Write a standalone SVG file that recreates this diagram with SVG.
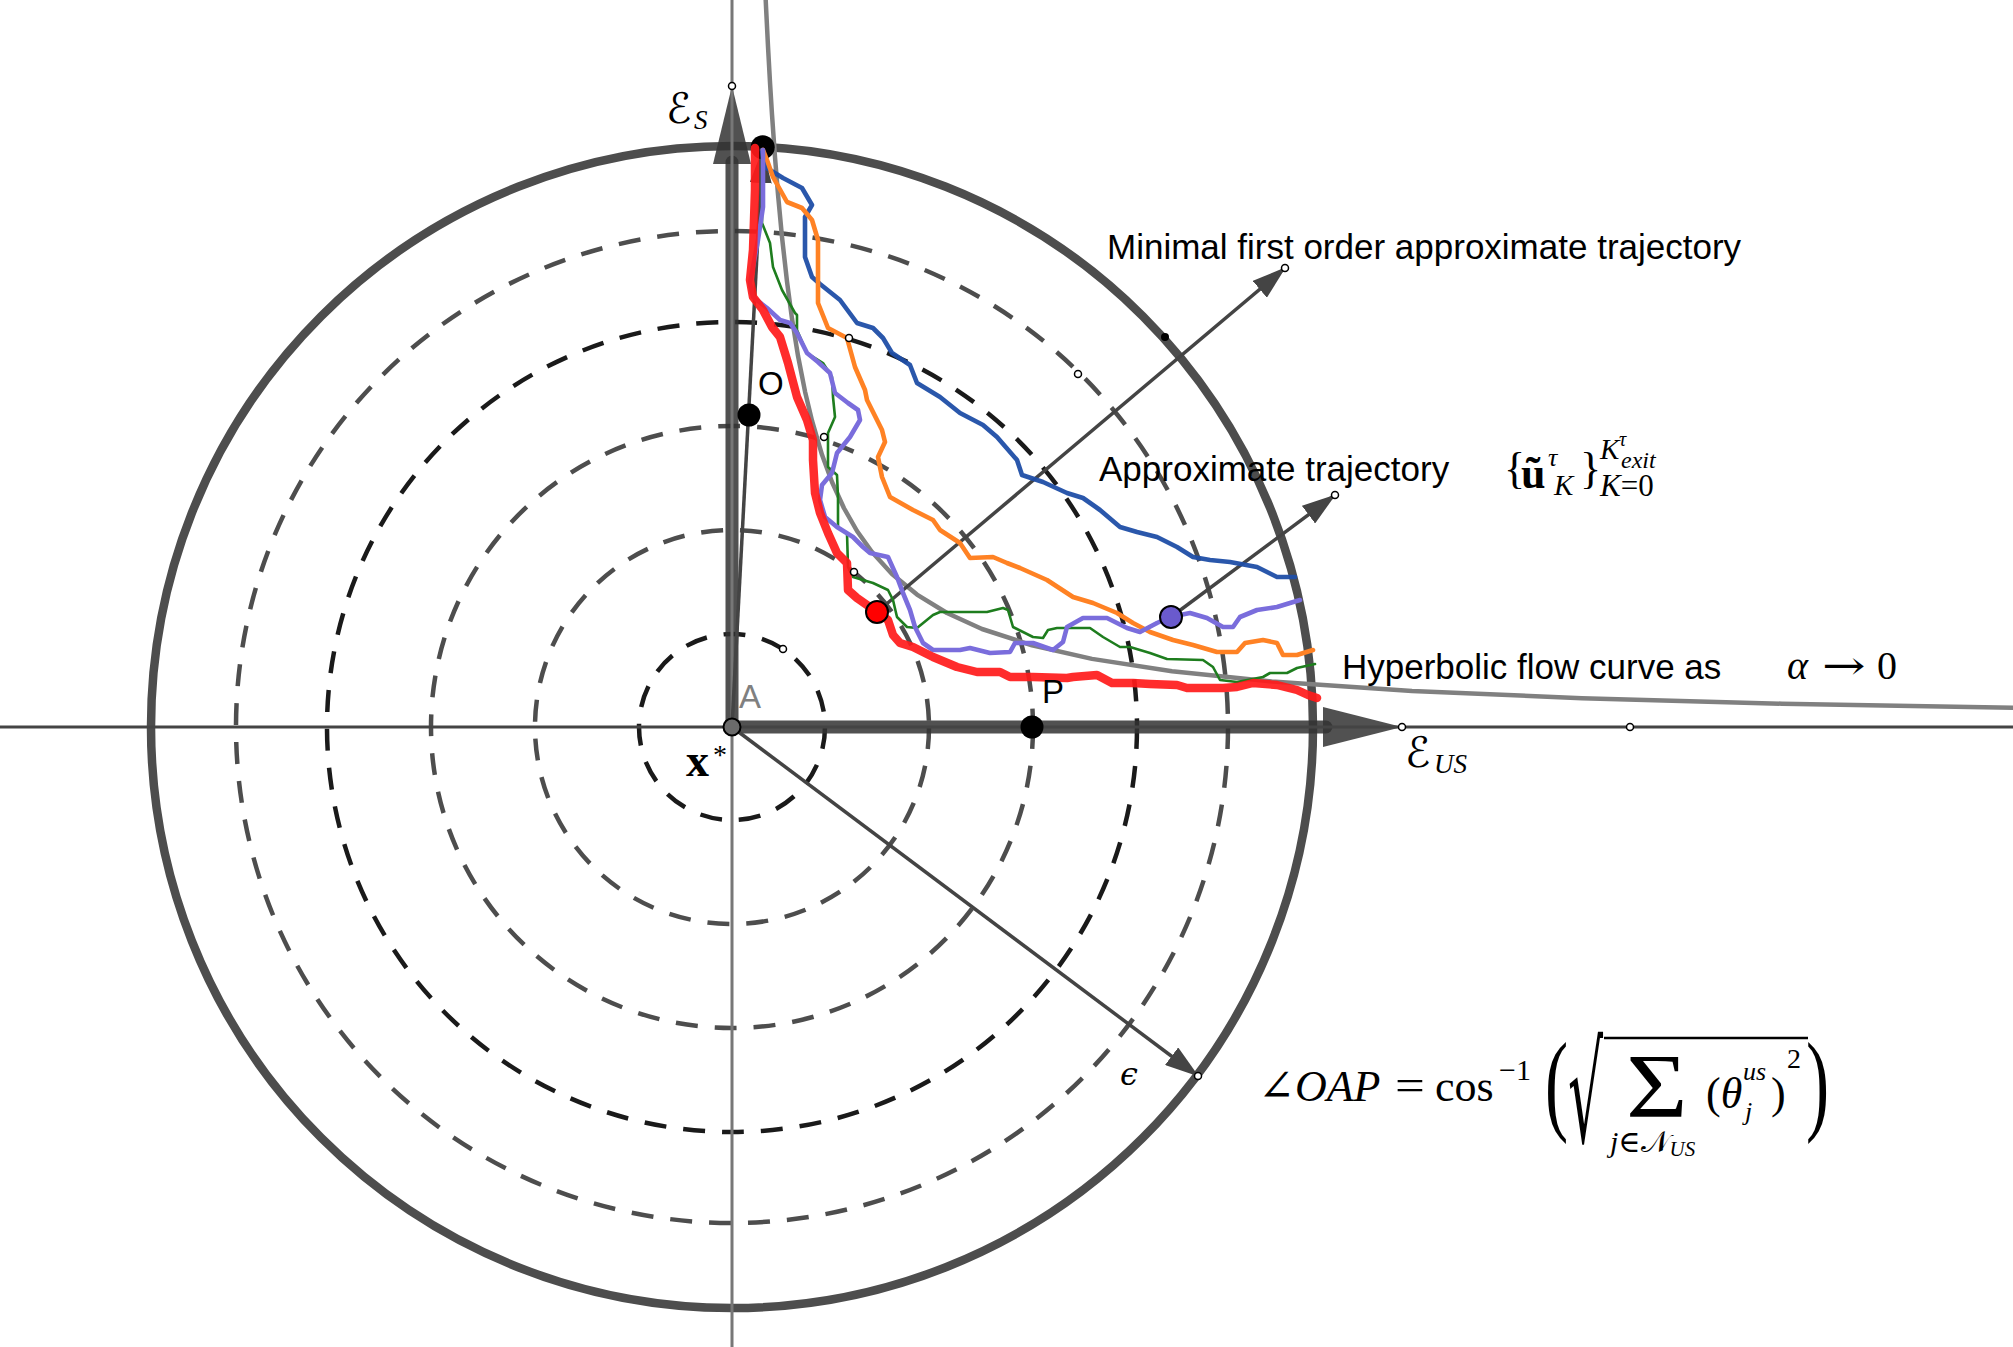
<svg xmlns="http://www.w3.org/2000/svg" width="2013" height="1347" viewBox="0 0 2013 1347">
<style>
.sans{font-family:'Liberation Sans',Arial,sans-serif;font-size:35px;fill:#000}
.lbl{font-family:'Liberation Sans',Arial,sans-serif;font-size:33px}
.ser{font-family:'Liberation Serif','DejaVu Serif',serif;fill:#000}
.it{font-style:italic}
.scr{font-family:'DejaVu Serif','DejaVu Sans',serif;fill:#000}
.dash{fill:none;stroke-width:4.5;stroke-dasharray:22 17}
.dk{stroke:#1a1a1a}
.gr{stroke:#4d4d4d}
.traj{fill:none;stroke-linejoin:round;stroke-linecap:round}
.vec{stroke:#444;stroke-width:3.5;fill:none}
.pt{fill:#fff;stroke:#000;stroke-width:1.5}
.big{fill:#333;fill-opacity:0.85}
</style>
<defs>
<marker id="ah" markerUnits="userSpaceOnUse" markerWidth="34" markerHeight="22" refX="33" refY="11" orient="auto"><path d="M0,0 L34,11 L0,22 Z" fill="#444"/></marker>
</defs>
<rect width="2013" height="1347" fill="#fff"/>
<g id="circles">
<circle class="dash dk" cx="732" cy="727" r="93"/>
<circle class="dash gr" cx="732" cy="727" r="197"/>
<circle class="dash gr" cx="732" cy="727" r="301"/>
<circle class="dash dk" cx="732" cy="727" r="405"/>
<circle class="dash gr" cx="732" cy="727" r="496"/>
<circle cx="732" cy="727" r="581" fill="none" stroke="#4d4d4d" stroke-width="8.5"/>
</g>
<g id="axes">
<line x1="732" y1="727" x2="732" y2="162" stroke="#333" stroke-opacity="0.85" stroke-width="13" stroke-linecap="round"/>
<polygon class="big" points="732,86 713,164 751,164"/>
<line x1="732" y1="727" x2="1326" y2="727" stroke="#333" stroke-opacity="0.85" stroke-width="13" stroke-linecap="round"/>
<polygon class="big" points="1402,727 1323,707 1323,747"/>
<line x1="0" y1="727" x2="2013" y2="727" stroke="#444" stroke-width="3"/>
<line x1="732" y1="0" x2="732" y2="1347" stroke="#777" stroke-width="3"/>
</g>
<g id="hyperbola">
<polyline fill="none" stroke="#808080" stroke-width="4.5" stroke-linejoin="round" points="763,-63 764,-38.6 765,-15.4 766,6.4 768,46.4 770,82.3 772,114.5 775,157.2 778,194.4 782,237 787,281.5 792,318.7 798,355.8 805,391.4 812,420.75 822,454.8 832,482 844,508.25 857,531 872,552 892,573.9 917,594.6 947,613 982,629 1032,645.3 1092,658.9 1172,671.3 1272,681.6 1412,691 1582,698.2 1782,703.7 2032,708.2"/>
</g>
<g id="connectors">
<line class="vec" x1="732" y1="727" x2="762.5" y2="150" marker-end="url(#ah)"/>
<line class="vec" x1="732" y1="727" x2="1198" y2="1076" marker-end="url(#ah)"/>
<line class="vec" x1="877" y1="612" x2="1285" y2="268" marker-end="url(#ah)"/>
<line class="vec" x1="1171" y1="617" x2="1335" y2="495" marker-end="url(#ah)"/>
</g>
<g id="start-point"><circle cx="762.7" cy="147.3" r="12" fill="#000"/></g>
<g id="trajectories">
<polyline class="traj" stroke="#1e7d1e" stroke-width="2.6" points="762,152 762,160 762,223 770,243 773,267 782,290 795,313 797,315 797,330 807,353 823,363 832,377 833,397 835,417 828,433 828,467 837,475 838,497 838,527 847,533 848,567 853,577 873,583 888,590 893,600 897,617 907,627 917,628 933,615 940,612 987,612 1003,608 1008,610 1013,627 1033,637 1043,638 1048,630 1057,628 1090,628 1103,637 1120,647 1130,647 1150,653 1167,659 1203,660 1213,667 1220,680 1237,682 1263,677 1270,673 1287,673 1297,668 1315,664"/>
<polyline class="traj" stroke="#1f4ea6" stroke-width="4.6" stroke-opacity="0.95" points="762,150 765,167 783,178 802,188 812,205 805,217 805,257 812,277 820,284 840,300 857,323 873,328 883,338 892,353 910,365 917,383 940,397 960,413 983,425 997,437 1017,460 1022,475 1043,482 1067,493 1083,498 1100,510 1120,527 1137,532 1157,537 1177,547 1193,557 1210,560 1230,562 1257,567 1277,577 1295,577"/>
<polyline class="traj" stroke="#ff8224" stroke-width="4.6" points="763,150 767,160 773,177 787,202 802,208 812,220 818,240 818,280 818,303 828,328 847,338 855,367 865,390 867,400 882,430 885,442 878,457 882,477 890,497 913,510 933,520 940,530 960,543 970,558 993,557 1007,563 1020,568 1047,580 1073,597 1093,603 1117,613 1133,623 1150,632 1173,640 1193,645 1217,652 1237,652 1245,643 1263,640 1277,643 1283,655 1297,655 1313,650"/>
<polyline class="traj" stroke="#7a6ddc" stroke-width="4.6" points="763,150 763,207 758,240 750,283 753,297 767,308 780,320 790,323 797,333 807,353 818,362 830,373 835,393 848,403 858,410 860,420 850,437 837,453 832,473 822,485 820,500 825,517 837,527 853,537 863,547 870,553 888,557 897,577 903,593 910,610 915,627 923,643 933,650 960,650 970,648 990,653 1010,652 1015,643 1033,643 1053,650 1063,642 1067,627 1083,618 1107,618 1127,628 1140,632 1157,623 1170,617 1190,613 1207,618 1223,627 1233,627 1240,617 1257,610 1277,607 1290,603 1300,600"/>
<polyline class="traj" stroke="#ff1a1a" stroke-opacity="0.92" stroke-width="8.5" points="755,148 755,190 753,250 750,280 753,297 763,310 772,327 780,337 788,363 797,397 807,420 813,440 813,460 815,493 820,513 828,533 837,553 847,563 848,590 857,598 867,605 877,612 888,620 893,635 900,643 913,647 933,657 957,667 977,672 1000,672 1010,677 1033,677 1067,678 1073,677 1097,675 1112,683 1133,683 1150,684 1177,685 1187,688 1223,688 1237,687 1253,683 1277,685 1297,690 1308,695 1317,698"/>
</g>
<g id="point-A"><circle cx="732" cy="727" r="8.5" fill="#6b6b6b" stroke="#000" stroke-width="2"/><text class="lbl" x="739" y="708" fill="#808080">A</text></g>
<g id="point-O"><circle cx="749" cy="415" r="11.5" fill="#000"/><text class="lbl" x="758" y="395">O</text></g>
<g id="point-P"><circle cx="1032" cy="727" r="11.5" fill="#000"/><text class="lbl" x="1042" y="703">P</text></g>
<g id="point-red"><circle cx="877" cy="612" r="11" fill="#ff0000" stroke="#000" stroke-width="2"/></g>
<g id="point-violet"><circle cx="1171" cy="617" r="11" fill="#6a5acd" stroke="#000" stroke-width="2"/></g>
<g id="aux-points">
<circle class="pt" cx="732" cy="86" r="3.5"/>
<circle class="pt" cx="1402" cy="727" r="3.5"/>
<circle class="pt" cx="1630" cy="727" r="3.5"/>
<circle class="pt" cx="1285" cy="268" r="3.5"/>
<circle class="pt" cx="1335" cy="495" r="3.5"/>
<circle class="pt" cx="1198" cy="1076" r="3.5"/>
<circle class="pt" cx="1078" cy="374" r="3.5"/>
<circle class="pt" cx="849" cy="338" r="3.5"/>
<circle class="pt" cx="824" cy="437" r="3.5"/>
<circle class="pt" cx="854" cy="572" r="3.5"/>
<circle class="pt" cx="783" cy="649" r="3.5"/>
<circle cx="1165" cy="337" r="4" fill="#000"/>
</g>
<g id="label-ES"><text class="scr" x="666" y="123" font-size="42">ℰ</text><text class="ser it" x="694" y="129" font-size="27">S</text></g>
<g id="label-EUS"><text class="scr" x="1405" y="767" font-size="42">ℰ</text><text class="ser it" x="1434" y="773" font-size="27">US</text></g>
<g id="label-xstar"><text class="ser" x="686" y="776" font-size="46" font-weight="bold">x</text><text class="ser" x="713" y="764" font-size="28">*</text></g>
<g id="label-eps"><text class="scr it" x="1120" y="1085" font-size="32">ϵ</text></g>
<g id="label-minimal"><text class="sans" x="1107" y="259">Minimal first order approximate trajectory</text></g>
<g id="label-approx">
<text class="sans" x="1099" y="481">Approximate trajectory</text>
<text class="ser" x="1504" y="483" font-size="44">{</text>
<text class="ser" x="1521" y="488" font-size="44" font-weight="bold">ũ</text>
<text class="ser it" x="1548" y="466" font-size="26">τ</text>
<text class="ser it" x="1554" y="495" font-size="29">K</text>
<text class="ser" x="1580" y="483" font-size="44">}</text>
<text class="ser it" x="1600" y="459" font-size="29">K</text>
<text class="ser it" x="1619" y="446" font-size="20">τ</text>
<text class="ser it" x="1621" y="468" font-size="24">exit</text>
<text class="ser" x="1600" y="496" font-size="31"><tspan font-style="italic">K</tspan>=0</text>
</g>
<g id="label-hyperbolic">
<text class="sans" x="1342" y="679">Hyperbolic flow curve as</text>
<text class="ser" x="1787" y="679" font-size="40"><tspan font-style="italic">α</tspan></text>
<text class="scr" transform="translate(1822,679) scale(1.3,1)" font-size="40">→</text>
<text class="ser" x="1877" y="679" font-size="40">0</text>
</g>
<g id="label-angle">
<text class="ser" x="1258" y="1101" font-size="44">∠<tspan font-style="italic">OAP</tspan></text>
<text class="ser" transform="translate(1395,1101) scale(1.15,1)" font-size="46">=</text>
<text class="ser" x="1435" y="1101" font-size="44">cos</text>
<text class="ser" x="1499" y="1080" font-size="30">−1</text>
<text class="ser" transform="translate(1545,1120) scale(0.62,1)" font-size="112">(</text>
<text class="scr" transform="translate(1568,1142) scale(0.55,1.36)" font-size="100">√</text>
<line x1="1604" y1="1038" x2="1808" y2="1038" stroke="#000" stroke-width="2.5"/>
<text class="ser" transform="translate(1626,1117) scale(1.15,1)" font-size="92">Σ</text>
<text class="ser" x="1610" y="1152" font-size="30"><tspan font-style="italic">j</tspan>∈<tspan class="scr">𝒩</tspan><tspan font-style="italic" font-size="21" dy="4">US</tspan></text>
<text class="ser" x="1706" y="1108" font-size="44">(<tspan font-style="italic">θ</tspan></text>
<text class="ser it" x="1743" y="1080" font-size="26">us</text>
<text class="ser it" x="1745" y="1120" font-size="26">j</text>
<text class="ser" x="1771" y="1108" font-size="44">)</text>
<text class="ser" x="1787" y="1068" font-size="28">2</text>
<text class="ser" transform="translate(1806,1120) scale(0.62,1)" font-size="112">)</text>
</g>
</svg>
